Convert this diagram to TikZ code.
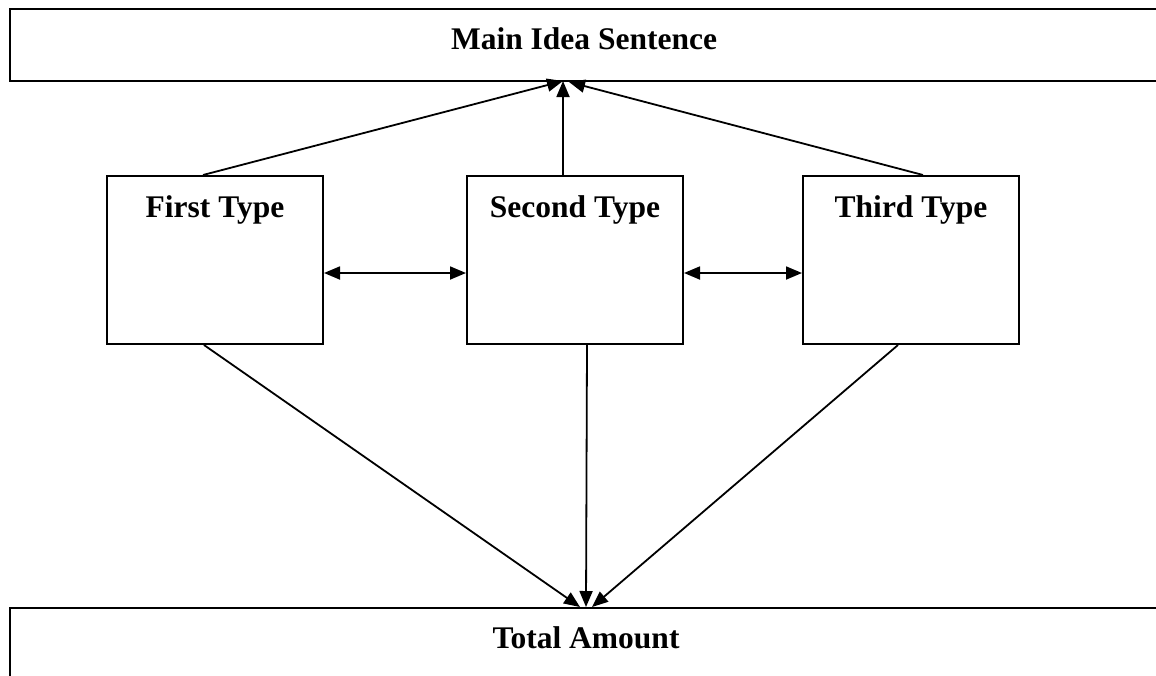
\documentclass[tikz,border=0pt]{standalone}
\usepackage{fontspec}
\setmainfont{Liberation Serif}
\usetikzlibrary{arrows.meta}
\begin{document}
\begin{tikzpicture}[x=1pt,y=-1pt,
  framebox/.style={draw=black,line width=2.2pt,rectangle,inner sep=0pt,anchor=north west},
  typebox/.style={draw=black,line width=2pt,rectangle,inner sep=0pt,
    minimum width=216pt,minimum height=168pt,anchor=north west},
  lbl/.style={font=\bfseries\fontsize{31.5}{36}\selectfont,inner sep=0pt,anchor=base},
  link/.style={line width=1.8pt,-{Triangle[length=16pt,width=13pt]}},
  twoway/.style={line width=1.8pt,{Triangle[length=16pt,width=13pt]}-{Triangle[length=16pt,width=13pt]}}]
  \clip (0,0) rectangle (1156,675);
  \fill[white] (0,0) rectangle (1156,675);

  % outer frames, running off the page edge
  \node[framebox,minimum width=1170pt,minimum height=72pt] (main) at (9,8) {};
  \node[framebox,minimum width=1170pt,minimum height=100pt] (total) at (9,607) {};
  \node[lbl] (mainlbl) at (584,49) {Main Idea Sentence};
  \node[lbl] (totallbl) at (586,648) {Total Amount};

  % the three type boxes
  \node[typebox] (b1) at (106,175) {};
  \node[typebox] (b2) at (466,175) {};
  \node[typebox] (b3) at (802,175) {};
  \node[lbl] (l1) at ([yshift=-42pt]b1.north) {First Type};
  \node[lbl] (l2) at ([yshift=-42pt]b2.north) {Second Type};
  \node[lbl] (l3) at ([yshift=-42pt]b3.north) {Third Type};

  % meeting points on the frames
  \coordinate (up) at (563,81);
  \coordinate (upr) at (569,82);
  \coordinate (down) at (586,607);

  % upward links
  \draw[link] ([xshift=-12pt]b1.north) -- (up);
  \draw[link] ([xshift=-12pt]b2.north) -- (up);
  \draw[link] ([xshift=12pt]b3.north) -- (upr);

  % downward links
  \draw[link] ([xshift=-11pt]b1.south) -- ([xshift=-6pt]down);
  \draw[link] ([xshift=12pt]b2.south) -- (down);
  \draw[link] ([xshift=-13pt]b3.south) -- ([xshift=6pt]down);

  % two-way links between neighbours
  \draw[twoway] ([yshift=-13pt]b1.east) -- ([yshift=-13pt]b2.west);
  \draw[twoway] ([yshift=-13pt]b2.east) -- ([yshift=-13pt]b3.west);
\end{tikzpicture}
\end{document}
